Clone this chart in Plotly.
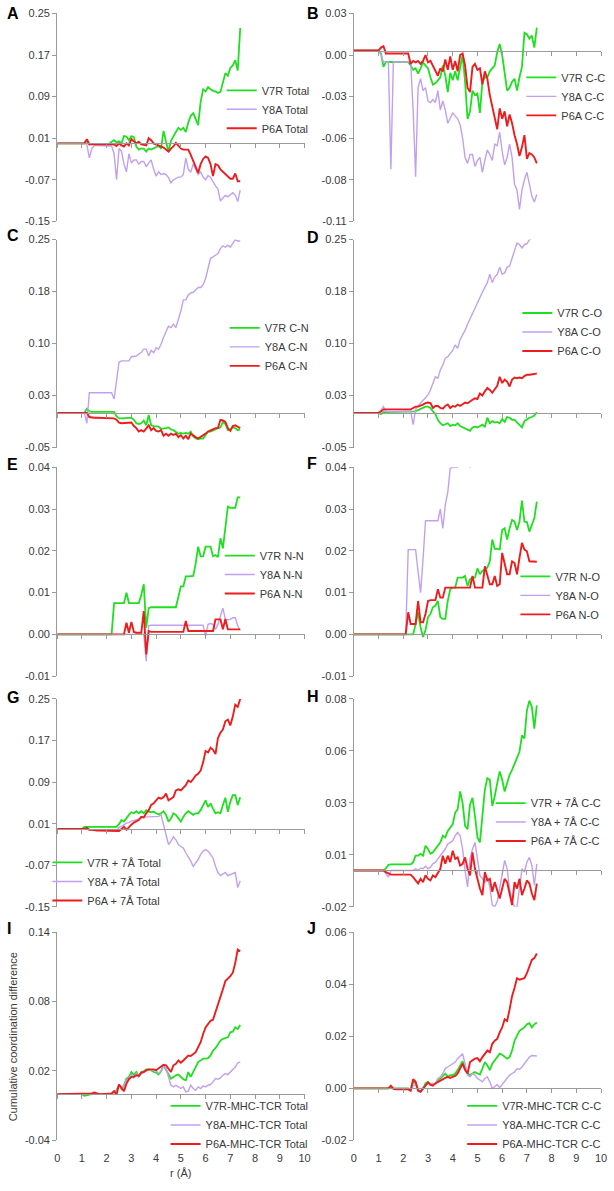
import plotly.graph_objects as go

# r (Å) sampling of every curve
R = [0.0, 0.1, 0.2, 0.3, 0.4, 0.5, 0.6, 0.7, 0.8, 0.9,
     1.0, 1.1, 1.2, 1.3, 1.4, 1.5, 1.6, 1.7, 1.8, 1.9,
     2.0, 2.1, 2.2, 2.3, 2.4, 2.5, 2.6, 2.7, 2.8, 2.9,
     3.0, 3.1, 3.2, 3.3, 3.4, 3.5, 3.6, 3.7, 3.8, 3.9,
     4.0, 4.1, 4.2, 4.3, 4.4, 4.5, 4.6, 4.7, 4.8, 4.9,
     5.0, 5.1, 5.2, 5.3, 5.4, 5.5, 5.6, 5.7, 5.8, 5.9,
     6.0, 6.1, 6.2, 6.3, 6.4, 6.5, 6.6, 6.7, 6.8, 6.9,
     7.0, 7.1, 7.2, 7.3, 7.4]

MUTANTS = ["V7R", "Y8A", "P6A"]
X_TICKS = [0, 1, 2, 3, 4, 5, 6, 7, 8, 9, 10]

# ---- A: Total
A_V7R = [0, 0, 0, 0, 0, 0, 0, 0, 0, 0,
         0, 0, 0.005, -0.002, -0.001, -0.001, -0.001, -0.001, -0.001, -0.001,
         -0.001, -0.001, 0.003, 0.006, 0.002, 0.004, 0.0, 0.014, 0.013, 0.006,
         0.014, 0.012, -0.006, -0.012, -0.01, -0.01, -0.016, -0.01, -0.012, -0.01,
         -0.008, -0.005, -0.01, 0.024, 0.003, -0.016, 0.005, 0.015, 0.022, 0.03,
         0.026, 0.03, 0.022, 0.04, 0.053, 0.058, 0.045, 0.035, 0.08, 0.104,
         0.1, 0.108, 0.104, 0.101, 0.1, 0.097, 0.099, 0.115, 0.135, 0.13,
         0.145, 0.15, 0.16, 0.14, 0.222]
A_Y8A = [0, 0, 0, 0, 0, 0, 0, 0, 0, 0,
         0, 0, -0.002, -0.028, -0.01, -0.004, -0.004, -0.004, -0.004, -0.004,
         -0.004, -0.004, -0.005, -0.02, -0.07, -0.01, -0.015, -0.04, -0.055, -0.02,
         -0.038, -0.032, -0.032, -0.04, -0.035, -0.035, -0.045, -0.038, -0.032, -0.05,
         -0.063, -0.055, -0.06, -0.058, -0.06, -0.066, -0.076, -0.07, -0.068, -0.065,
         -0.065, -0.06, -0.028, -0.05, -0.055, -0.04, -0.05, -0.06, -0.055, -0.065,
         -0.07, -0.062, -0.065, -0.075, -0.082, -0.088, -0.111, -0.105, -0.1, -0.103,
         -0.098, -0.095, -0.1, -0.112, -0.09]
A_P6A = [0, 0, 0, 0, 0, 0, 0, 0, 0, 0,
         0, 0, 0.008, -0.002, -0.002, -0.002, -0.002, -0.002, -0.002, -0.002,
         -0.002, -0.002, -0.002, -0.002, -0.005, 0.0, -0.004, -0.006, 0.0, -0.004,
         0.008, 0.004, 0.0, 0.003, -0.002, -0.003, -0.004, 0.01, 0.006, 0.0,
         -0.002, -0.004, -0.006, -0.008, -0.012, -0.016, -0.01, -0.006, 0.001, -0.005,
         -0.01, -0.012, -0.012, -0.012, -0.022, -0.034, -0.045, -0.057, -0.04, -0.03,
         -0.025, -0.028, -0.04, -0.063, -0.04, -0.042, -0.05, -0.055, -0.06, -0.065,
         -0.068, -0.068, -0.058, -0.073, -0.073]

# ---- B: C-C
B_V7R = [0, 0, 0, 0, 0, 0, 0, 0, 0, 0,
         0, -0.002, -0.011, -0.0077, -0.0077, -0.0077, -0.0077, -0.0077, -0.0077, -0.0077,
         -0.0077, -0.0077, -0.0077, -0.01, -0.013, -0.012, -0.0155, -0.012, -0.008, -0.01,
         -0.012, -0.018, -0.023, -0.022, -0.02, -0.018, -0.01, -0.017, -0.028, -0.015,
         -0.02, -0.014, -0.02, -0.011, -0.003, -0.021, -0.046, -0.041, -0.027, -0.03,
         -0.029, -0.042, -0.021, -0.018, -0.018, -0.014, -0.012, -0.01, -0.001, 0.0044,
         -0.003, -0.017, -0.027, -0.025, -0.021, -0.019, -0.027, -0.018, -0.011, 0.012,
         0.011, 0.008, 0.01, 0.002, 0.0155]
B_Y8A = [0, 0, 0, 0, 0, 0, 0, 0, 0, 0,
         0, -0.003, -0.0077, -0.0077, -0.0077, -0.08, -0.0077, -0.0077, -0.0077, -0.0077,
         -0.0077, -0.0077, -0.0077, -0.0077, -0.04, -0.085, -0.025, -0.019, -0.027, -0.025,
         -0.034, -0.035, -0.033, -0.035, -0.027, -0.04, -0.034, -0.04, -0.049, -0.045,
         -0.042, -0.044, -0.046, -0.05, -0.059, -0.072, -0.076, -0.07, -0.07, -0.078,
         -0.074, -0.072, -0.082, -0.074, -0.067, -0.07, -0.074, -0.063, -0.064, -0.055,
         -0.068, -0.077, -0.072, -0.063, -0.072, -0.09, -0.094, -0.107, -0.094, -0.087,
         -0.082, -0.09, -0.098, -0.102, -0.097]
B_P6A = [0, 0, 0, 0, 0, 0, 0, 0, 0, 0,
         0, 0.002, 0.003, -0.002, -0.002, -0.002, -0.002, -0.002, -0.002, -0.002,
         -0.002, -0.002, -0.002, -0.009, -0.007, -0.008, -0.007, -0.009, -0.007, -0.003,
         -0.008, -0.007, -0.01, -0.014, -0.017, -0.012, -0.014, -0.006, -0.013, -0.004,
         -0.013, -0.007, -0.014, -0.003, -0.002, -0.01, -0.025, -0.028, -0.011, -0.009,
         -0.013, -0.012, -0.023, -0.014, -0.019, -0.03, -0.038, -0.045, -0.053, -0.039,
         -0.046, -0.041, -0.051, -0.043, -0.049, -0.057, -0.063, -0.071, -0.065, -0.057,
         -0.073, -0.069, -0.07, -0.072, -0.076]

# ---- C: C-N
C_V7R = [0, 0, 0, 0, 0, 0, 0, 0, 0, 0,
         0, 0, 0.006, 0.002, 0.0015, 0.0015, 0.0015, 0.0015, 0.0015, 0.0015,
         0.0015, 0.0015, 0.0015, 0.0015, -0.005, -0.008, -0.008, -0.008, -0.008, -0.008,
         -0.007, -0.01, -0.015, -0.016, -0.015, -0.011, -0.018, -0.003, -0.018, -0.019,
         -0.02, -0.02, -0.023, -0.023, -0.022, -0.021, -0.024, -0.025, -0.027, -0.03,
         -0.029, -0.03, -0.029, -0.03, -0.027, -0.034, -0.037, -0.038, -0.037, -0.037,
         -0.032, -0.027, -0.027, -0.025, -0.024, -0.022, -0.021, -0.013, -0.016, -0.025,
         -0.024, -0.021, -0.022, -0.025, -0.024]
C_Y8A = [0, 0, 0, 0, 0, 0, 0, 0, 0, 0,
         0, 0, -0.015, 0.029, 0.029, 0.029, 0.029, 0.029, 0.029, 0.029,
         0.029, 0.029, 0.029, 0.02, 0.051, 0.073, 0.075, 0.075, 0.075, 0.075,
         0.081, 0.081, 0.082, 0.085, 0.087, 0.092, 0.092, 0.082, 0.09, 0.087,
         0.094, 0.092, 0.099, 0.109, 0.118, 0.125, 0.123, 0.128, 0.123, 0.135,
         0.147, 0.163, 0.163, 0.17, 0.173, 0.174, 0.178, 0.181, 0.181, 0.185,
         0.194, 0.211, 0.223, 0.225, 0.227, 0.23, 0.237, 0.241, 0.239, 0.242,
         0.239, 0.244, 0.25, 0.248, 0.248]
C_P6A = [0, 0, 0, 0, 0, 0, 0, 0, 0, 0,
         0, 0, 0, -0.006, -0.007, -0.007, -0.007, -0.007, -0.007, -0.007,
         -0.007, -0.007, -0.007, -0.008, -0.01, -0.014, -0.015, -0.015, -0.015, -0.015,
         -0.014, -0.019, -0.022, -0.027, -0.025, -0.027, -0.022, -0.018, -0.025, -0.022,
         -0.026, -0.027, -0.025, -0.033, -0.03, -0.033, -0.03, -0.032, -0.03, -0.035,
         -0.032, -0.037, -0.033, -0.038, -0.03, -0.033, -0.035, -0.037, -0.035, -0.032,
         -0.03, -0.027, -0.025, -0.024, -0.022, -0.022, -0.01, -0.011, -0.013, -0.022,
         -0.026, -0.019, -0.018, -0.02, -0.022]

# ---- D: C-O
D_V7R = [0, 0, 0, 0, 0, 0, 0, 0, 0, 0,
         0, -0.002, 0.001, 0.001, 0.001, 0.001, 0.001, 0.001, 0.001, 0.001,
         0.001, 0.001, 0.001, 0.001, 0.001, 0.002, 0.004, 0.006, 0.007, 0.009,
         0.009, 0.007, 0.002, -0.002, -0.01, -0.015, -0.018, -0.017, -0.015, -0.019,
         -0.017, -0.018, -0.015, -0.019, -0.021, -0.023, -0.025, -0.026, -0.021, -0.02,
         -0.021, -0.019, -0.017, -0.02, -0.007, -0.015, -0.012, -0.014, -0.013, -0.015,
         -0.009, -0.013, -0.006, -0.007, -0.01, -0.01, -0.014, -0.018, -0.021, -0.012,
         -0.009, -0.007, -0.006, -0.004, 0.001]
D_Y8A = [0, 0, 0, 0, 0, 0, 0, 0, 0, 0,
         0, 0.004, 0.009, 0.002, 0.002, 0.002, 0.002, 0.002, 0.002, 0.002,
         0.002, 0.002, 0.002, 0.002, -0.017, 0.005, 0.01, 0.014, 0.017, 0.021,
         0.026, 0.033, 0.043, 0.052, 0.05, 0.062, 0.069, 0.079, 0.081, 0.086,
         0.09, 0.098, 0.093, 0.106, 0.112, 0.119, 0.128, 0.136, 0.143, 0.15,
         0.16, 0.167, 0.174, 0.181, 0.188, 0.2, 0.188, 0.196, 0.2, 0.21,
         0.2, 0.202, 0.21, 0.212, 0.223, 0.233, 0.245, 0.243, 0.238, 0.243,
         0.244, 0.25, 0.252, None, None]
D_P6A = [0, 0, 0, 0, 0, 0, 0, 0, 0, 0,
         0, 0.002, 0.005, 0.005, 0.005, 0.005, 0.005, 0.005, 0.005, 0.005,
         0.005, 0.005, 0.005, 0.005, 0.007, 0.009, 0.009, 0.01, 0.012, 0.014,
         0.015, 0.014, 0.007, 0.01, 0.01, 0.007, 0.006, 0.01, 0.012, 0.007,
         0.01, 0.009, 0.012, 0.01, 0.012, 0.015, 0.014, 0.017, 0.019, 0.021,
         0.02, 0.028, 0.025, 0.031, 0.036, 0.033, 0.029, 0.034, 0.039, 0.052,
         0.043, 0.048, 0.045, 0.038, 0.048, 0.051, 0.05, 0.051, 0.05, 0.053,
         0.055, 0.055, 0.055, 0.056, 0.057]

# ---- E: N-N
E_V7R = [0, 0, 0, 0, 0, 0, 0, 0, 0, 0,
         0, 0, 0, 0, 0, 0, 0, 0, 0, 0,
         0, 0, 0, 0.0075, 0.0075, 0.0075, 0.0075, 0.0075, 0.01, 0.0075,
         0.0075, 0.0075, 0.0075, 0.0075, 0.0095, 0.012, 0.0016, 0.0063, 0.0065, 0.0065,
         0.0065, 0.0065, 0.0065, 0.0065, 0.0065, 0.0065, 0.0065, 0.0065, 0.0065, 0.009,
         0.0115, 0.0115, 0.0139, 0.0139, 0.0139, 0.014, 0.017, 0.021, 0.0187, 0.0187,
         0.021, 0.021, 0.021, 0.0187, 0.019, 0.0185, 0.023, 0.0206, 0.025, 0.0306,
         0.0303, 0.0303, 0.0303, 0.0328, 0.0328]
E_Y8A = [0, 0, 0, 0, 0, 0, 0, 0, 0, 0,
         0, 0, 0, 0, 0, 0, 0, 0, 0, 0,
         0, 0, 0, 0, 0, 0, 0, 0, 0, 0,
         0, 0, 0, 0, 0, 0.0, -0.0064, 0.0021, 0.0022, 0.0022,
         0.0022, 0.0022, 0.0022, 0.0022, 0.0022, 0.0022, 0.0022, 0.0022, 0.0022, 0.0022,
         0.0022, 0.0022, 0.0022, 0.0022, 0.0022, 0.0022, 0.0022, 0.0022, 0.0022, 0.0022,
         -0.0004, 0.0024, 0.0026, 0.0024, 0.0012, 0.0024, 0.0044, 0.0063, 0.0036, 0.0035,
         0.0036, 0.004, 0.004, 0.002, 0.001]
E_P6A = [0, 0, 0, 0, 0, 0, 0, 0, 0, 0,
         0, 0, 0, 0, 0, 0, 0, 0, 0, 0,
         0, 0, 0, 0, 0, 0, 0, 0, 0.0028, 0.0004,
         0.003, 0.0006, 0.0004, 0.0004, 0.0004, 0.0056, -0.0048, 0.0008, 0.0006, 0.0006,
         0.0006, 0.0006, 0.0006, 0.0006, 0.0006, 0.0006, 0.0006, 0.0006, 0.0006, 0.0006,
         0.0006, 0.0006, 0.0032, 0.0008, 0.0008, 0.0008, 0.0008, 0.0008, 0.0008, 0.0008,
         0.0008, 0.0008, 0.0008, 0.0008, 0.0036, 0.0036, 0.0036, 0.0012, 0.0037, 0.0012,
         0.0012, 0.0012, 0.0012, 0.0012, 0.0012]

# ---- F: N-O
F_V7R = [0, 0, 0, 0, 0, 0, 0, 0, 0, 0,
         0, 0, 0, 0, 0, 0, 0, 0, 0, 0,
         0, 0, 0, 0, 0, 0.0025, 0.0053, 0.0017, -0.0006, 0.001,
         0.0041, 0.0049, 0.0065, 0.0069, 0.008, 0.0041, 0.0037, 0.0037, 0.008, 0.0108,
         0.0112, 0.0112, 0.0136, 0.0136, 0.0136, 0.014, 0.0116, 0.0132, 0.0136, 0.0136,
         0.0158, 0.0144, 0.0152, 0.0156, 0.016, 0.0175, 0.0227, 0.0205, 0.0205, 0.0203,
         0.025, 0.0254, 0.0227, 0.0254, 0.0274, 0.027, 0.025, 0.027, 0.032, 0.027,
         0.0269, 0.0246, 0.0262, 0.0278, 0.0318]
F_Y8A = [0, 0, 0, 0, 0, 0, 0, 0, 0, 0,
         0, 0, 0, 0, 0, 0, 0, 0, 0, 0,
         0, 0, 0.0203, 0.0203, 0.0203, 0.0203, 0.015, 0.01, 0.018, 0.0272,
         0.0272, 0.0272, 0.0272, 0.0272, 0.0272, 0.03, 0.0254, 0.031, 0.034, 0.0398,
         0.04, 0.04, 0.04, 0.042, 0.044, 0.043, 0.041, 0.04, 0.043, None,
         None, None, None, None, None, None, None, None, None, None,
         None, None, None, None, None, None, None, None, None, None,
         None, None, None, None, None]
F_P6A = [0, 0, 0, 0, 0, 0, 0, 0, 0, 0,
         0, 0, 0, 0, 0, 0, 0, 0, 0, 0,
         0, 0, 0.0053, 0.0025, 0.0025, 0.0025, 0.008, 0.0029, 0.0029, 0.0049,
         0.008, 0.0082, 0.0082, 0.0082, 0.0108, 0.0088, 0.0088, 0.0112, 0.0112, 0.0112,
         0.0112, 0.0112, 0.0112, 0.0112, 0.0112, 0.0112, 0.0112, 0.0112, 0.014, 0.0112,
         0.0112, 0.0112, 0.0112, 0.0163, 0.014, 0.012, 0.012, 0.014, 0.0116, 0.012,
         0.0195, 0.0167, 0.0144, 0.0144, 0.0175, 0.0171, 0.0144, 0.0183, 0.0219, 0.0203,
         0.0199, 0.0175, 0.0175, 0.0174, 0.0174]

# ---- G: + 7Å Total
G_V7R = [0, 0, 0, 0, 0, 0, 0, 0, 0, 0,
         0, 0.004, 0.004, 0.004, 0.004, 0.004, 0.004, 0.004, 0.004, 0.004,
         0.004, 0.004, 0.004, 0.004, 0.004, 0.009, 0.017, 0.014, 0.021, 0.027,
         0.032, 0.03, 0.034, 0.03, 0.034, 0.03, 0.036, 0.033, 0.032, 0.033,
         0.03, 0.028, 0.03, 0.034, 0.027, 0.014, 0.02, 0.03, 0.027, 0.02,
         0.014, 0.023, 0.03, 0.034, 0.03, 0.027, 0.03, 0.03, 0.036, 0.046,
         0.055, 0.042, 0.049, 0.039, 0.03, 0.032, 0.03, 0.046, 0.06, 0.033,
         0.052, 0.065, 0.065, 0.046, 0.061]
G_Y8A = [0, 0, 0, 0, 0, 0, 0, 0, 0, 0,
         0, 0, -0.001, -0.002, -0.002, -0.002, -0.002, -0.002, -0.002, -0.002,
         -0.002, -0.002, -0.002, -0.002, -0.004, 0.003, 0.005, 0.008, 0.011, 0.012,
         0.015, 0.016, 0.017, 0.019, 0.022, 0.023, 0.023, 0.023, 0.023, 0.023,
         0.023, 0.024, 0.027, 0.008, -0.011, -0.03, -0.024, -0.015, -0.021, -0.03,
         -0.034, -0.037, -0.046, -0.053, -0.062, -0.072, -0.065, -0.059, -0.049, -0.043,
         -0.04, -0.043, -0.049, -0.056, -0.072, -0.084, -0.09, -0.087, -0.084, -0.09,
         -0.088, -0.087, -0.084, -0.113, -0.1]
G_P6A = [0, 0, 0, 0, 0, 0, 0, 0, 0, 0,
         0, 0, 0.002, -0.002, -0.002, -0.003, -0.003, -0.003, -0.003, -0.003,
         -0.003, -0.003, -0.003, -0.004, -0.004, -0.004, 0.0, 0.004, -0.002, 0.004,
         0.008, 0.012, 0.014, 0.017, 0.023, 0.022, 0.03, 0.036, 0.046, 0.049,
         0.055, 0.06, 0.058, 0.061, 0.068, 0.055, 0.058, 0.061, 0.074, 0.076,
         0.074, 0.08, 0.084, 0.093, 0.09, 0.096, 0.103, 0.106, 0.112, 0.128,
         0.15, 0.147, 0.156, 0.152, 0.144, 0.175, 0.185, 0.191, 0.207, 0.21,
         0.199, 0.216, 0.239, 0.235, 0.25]

# ---- H: + 7Å C-C
H_V7R = [0, 0, 0, 0, 0, 0, 0, 0, 0, 0,
         0, 0, 0, 0.001, 0.0027, 0.0029, 0.0029, 0.0029, 0.0029, 0.0029,
         0.0029, 0.0029, 0.0029, 0.0029, 0.004, 0.0071, 0.0071, 0.008, 0.0071, 0.0119,
         0.0103, 0.008, 0.0087, 0.0103, 0.0119, 0.0135, 0.0167, 0.0159, 0.019, 0.0206,
         0.0222, 0.0278, 0.0294, 0.038, 0.0325, 0.0214, 0.0198, 0.0317, 0.0349, 0.0262,
         0.0159, 0.0135, 0.0262, 0.0389, 0.0444, 0.0436, 0.031, 0.0357, 0.042, 0.0476,
         0.0436, 0.038, 0.042, 0.046, 0.0484, 0.0516, 0.0548, 0.0571, 0.065, 0.0635,
         0.077, 0.0817, 0.0786, 0.0682, 0.0794]
H_Y8A = [0, 0, 0, 0, 0, 0, 0, 0, 0, 0,
         0, 0, 0, -0.0016, -0.0032, 0, 0, 0, 0, 0,
         0, 0, 0, 0, 0, 0.0008, 0, 0.0011, 0.0008, 0.002,
         0.0008, 0.0016, 0.0032, 0.004, 0.0056, 0.0071, 0.0087, 0.0103, 0.0127, 0.0135,
         0.0143, 0.0167, 0.0183, 0.0167, 0.0103, 0.0, -0.0079, 0.0056, 0.0103, 0.0135,
         0.0056, -0.0024, -0.004, -0.0056, -0.0032, -0.0079, -0.0167, -0.0175, -0.015, -0.0087,
         -0.0008, 0.0048, 0.0008, -0.0087, -0.015, -0.0175, -0.0175, -0.0087, 0.0008, -0.0008,
         0.004, 0.0063, 0.0024, -0.0071, 0.0032]
H_P6A = [0, 0, 0, 0, 0, 0, 0, 0, 0, 0,
         0, 0, 0, -0.0008, -0.0016, -0.002, -0.002, -0.002, -0.002, -0.002,
         -0.002, -0.002, -0.002, -0.002, -0.0032, -0.0048, -0.0063, -0.004, -0.0056, -0.0024,
         -0.004, -0.0048, -0.0024, -0.0032, -0.0008, 0.0008, 0.0071, 0.0032, 0.0071, 0.004,
         0.0095, 0.0056, 0.0063, 0.0024, 0.0032, 0.0063, 0.0008, -0.0024, 0.0087, 0.0008,
         -0.004, -0.0087, -0.0119, -0.0008, -0.0048, -0.004, -0.0103, -0.0056, -0.0095, -0.0135,
         -0.0087, -0.004, -0.0056, -0.0111, -0.0167, -0.0056, -0.0087, -0.004, -0.0119, -0.0087,
         -0.0048, -0.0063, -0.0111, -0.0143, -0.0063]

# ---- I: MHC-TCR Total
I_V7R = [0, 0, 0, 0, 0, 0, 0, 0, 0, 0,
         0, -0.0014, -0.0008, 0, 0, 0, 0, 0, 0, 0,
         0, 0, 0, 0.002, 0.0034, 0.0083, 0.0043, 0.0077, 0.0134, 0.0149,
         0.0191, 0.0169, 0.0191, 0.0157, 0.0191, 0.0197, 0.0214, 0.0214, 0.0206, 0.0191,
         0.0186, 0.0169, 0.0197, 0.0249, 0.0206, 0.0177, 0.0134, 0.0149, 0.0163, 0.0169,
         0.0149, 0.0129, 0.012, 0.0191, 0.0149, 0.0191, 0.0234, 0.0277, 0.0291, 0.0306,
         0.0306, 0.0311, 0.0334, 0.0377, 0.0397, 0.0434, 0.0463, 0.0477, 0.0483, 0.0491,
         0.0534, 0.054, 0.0577, 0.0563, 0.0597]
I_Y8A = [0, 0, 0, 0, 0, 0, 0, 0, 0, 0,
         0, 0, 0, 0, 0, 0, 0, 0, 0, 0,
         0, 0, 0, 0.002, 0.003, 0.0075, 0.005, 0.008, 0.012, 0.014,
         0.017, 0.014, 0.0185, 0.015, 0.0175, 0.019, 0.02, 0.021, 0.021, 0.021,
         0.02, 0.018, 0.02, 0.024, 0.022, 0.0149, 0.0077, 0.0063, 0.0077, 0.0063,
         0.0049, 0.0063, 0.002, 0.0026, 0.0077, 0.0049, 0.0034, 0.0063, 0.0049, 0.0071,
         0.0063, 0.0077, 0.0083, 0.0106, 0.0134, 0.0129, 0.014, 0.0163, 0.0177, 0.0169,
         0.0191, 0.0206, 0.0234, 0.0271, 0.0277]
I_P6A = [0, 0, 0, 0, 0, 0, 0, 0, 0, 0,
         0, 0.0006, 0.0006, 0.0006, 0.0006, 0.0014, 0.0006, 0, 0, 0,
         0, 0, 0.0006, 0.0026, -0.0003, 0.0083, 0.0049, 0.0026, 0.0091, 0.0129,
         0.0149, 0.0149, 0.0163, 0.0157, 0.0186, 0.0191, 0.0206, 0.0214, 0.0214, 0.0214,
         0.0206, 0.022, 0.0234, 0.0254, 0.0249, 0.0214, 0.0191, 0.0249, 0.0263, 0.0291,
         0.0271, 0.0291, 0.0311, 0.0334, 0.0329, 0.0349, 0.0363, 0.0406, 0.0449, 0.052,
         0.0577, 0.0606, 0.0634, 0.0643, 0.0706, 0.0763, 0.0834, 0.0906, 0.0977, 0.0997,
         0.102, 0.1049, 0.1134, 0.1249, 0.1234]

# ---- J: MHC-TCR C-C
J_V7R = [0, 0, 0, 0, 0, 0, 0, 0, 0, 0,
         0, 0, 0, 0, 0, 0.0005, 0, 0, 0, 0,
         0, 0, 0, -0.0005, 0.0025, 0.002, -0.0006, -0.0013, 0, 0.0019,
         0.0025, 0.0015, 0.0013, 0.0019, 0.0028, 0.0038, 0.0048, 0.0057, 0.0044, 0.0051,
         0.0051, 0.0057, 0.007, 0.0088, 0.0104, 0.0082, 0.0057, 0.0051, 0.0057, 0.0063,
         0.0057, 0.0053, 0.0076, 0.0101, 0.0088, 0.007, 0.0095, 0.0107, 0.012, 0.0133,
         0.0129, 0.012, 0.0114, 0.012, 0.0145, 0.0183, 0.0202, 0.0221, 0.0228, 0.0234,
         0.0246, 0.025, 0.0234, 0.0246, 0.0253]
J_Y8A = [0, 0, 0, 0, 0, 0, 0, 0, 0, 0,
         0, 0, 0, 0, 0, 0, 0, 0, 0, 0,
         0, 0, 0, -0.0005, 0.001, 0.0015, -0.0005, -0.001, 0, 0.001,
         0.002, 0.0018, 0.002, 0.002, 0.0038, 0.0044, 0.0057, 0.0076, 0.0082, 0.0088,
         0.0095, 0.0101, 0.0114, 0.0124, 0.0133, 0.0095, 0.0051, 0.0044, 0.0057, 0.0051,
         0.0038, 0.0032, 0.0025, 0.0038, 0.0044, 0.0025, 0.0, 0.0006, 0.0015, 0.0003,
         0.0015, 0.0025, 0.0038, 0.0051, 0.0057, 0.0063, 0.0076, 0.0073, 0.0082, 0.0095,
         0.0107, 0.012, 0.0126, 0.0126, 0.0124]
J_P6A = [0, 0, 0, 0, 0, 0, 0, 0, 0, 0,
         0, 0, 0, 0, 0, 0.001, -0.0002, -0.0004, -0.0004, -0.0004,
         -0.0004, -0.0004, -0.0004, -0.0009, 0.0035, 0.0025, -0.0009, -0.0013, 0, 0.0013,
         0.0023, 0.0013, 0.001, 0.0019, 0.0025, 0.0028, 0.0035, 0.004, 0.0044, 0.004,
         0.0044, 0.0048, 0.0057, 0.0076, 0.0095, 0.007, 0.0057, 0.0101, 0.0107, 0.0114,
         0.0116, 0.0104, 0.012, 0.0133, 0.0145, 0.0139, 0.0171, 0.0183, 0.019, 0.0215,
         0.0234, 0.0265, 0.0259, 0.0303, 0.0354, 0.0386, 0.0423, 0.0417, 0.0419, 0.0423,
         0.0442, 0.0468, 0.0493, 0.05, 0.0518]

# y-axis ranges, tick positions and the labels printed on them
RANGE_AG = [-0.15, 0.25]
TICKS_AG = [-0.15, -0.07, 0.01, 0.09, 0.17, 0.25]
LABELS_AG = ["-0.15", "-0.07", "0.01", "0.09", "0.17", "0.25"]
RANGE_B = [-0.115, 0.025]
TICKS_B = [-0.115, -0.087, -0.059, -0.031, -0.003, 0.025]
LABELS_B = ["-0.11", "-0.08", "-0.06", "-0.03", "0.00", "0.03"]
RANGE_CD = [-0.05, 0.25]
TICKS_CD = [-0.05, 0.025, 0.1, 0.175, 0.25]
LABELS_CD = ["-0.05", "0.03", "0.10", "0.18", "0.25"]
RANGE_EF = [-0.01, 0.04]
TICKS_EF = [-0.01, 0.0, 0.01, 0.02, 0.03, 0.04]
LABELS_EF = ["-0.01", "0.00", "0.01", "0.02", "0.03", "0.04"]
RANGE_H = [-0.0175, 0.0825]
TICKS_H = [-0.0175, 0.0075, 0.0325, 0.0575, 0.0825]
LABELS_H = ["-0.02", "0.01", "0.03", "0.06", "0.08"]
RANGE_I = [-0.04, 0.14]
TICKS_I = [-0.04, 0.02, 0.08, 0.14]
LABELS_I = ["-0.04", "0.02", "0.08", "0.14"]
RANGE_J = [-0.02, 0.06]
TICKS_J = [-0.02, 0.0, 0.02, 0.04, 0.06]
LABELS_J = ["-0.02", "0.00", "0.02", "0.04", "0.06"]

W, H = 614, 1191
GREEN, LAVENDER, RED = "#1fe01f", "#c2a0f0", "#ee1c1c"
AXIS_GREY = "#9a9a9a"
TEXT_GREY = "#3a3a3a"
FONT = "Arial, Liberation Sans, sans-serif"

COL_X = [(55, 306), (356, 607)]
ROW_Y = [(7.5, 217.5), (236, 446), (466, 677), (700, 910), (935.5, 1146)]

# letter, legend suffix, series, y range/ticks/labels, legend (left px, top px), letter (left px, centre px)
panels = [
    ("A", " Total", (A_V7R, A_Y8A, A_P6A), RANGE_AG, TICKS_AG, LABELS_AG, (222, 70.5), (2, 8)),
    ("B", " C-C", (B_V7R, B_Y8A, B_P6A), RANGE_B, TICKS_B, LABELS_B, (526, 57.5), (306, 8)),
    ("C", " C-N", (C_V7R, C_Y8A, C_P6A), RANGE_CD, TICKS_CD, LABELS_CD, (225, 310.5), (2, 232)),
    ("D", " C-O", (D_V7R, D_Y8A, D_P6A), RANGE_CD, TICKS_CD, LABELS_CD, (522, 295.5), (306, 234)),
    ("E", " N-N", (E_V7R, E_Y8A, E_P6A), RANGE_EF, TICKS_EF, LABELS_EF, (220, 540.5), (2, 463)),
    ("F", " N-O", (F_V7R, F_Y8A, F_P6A), RANGE_EF, TICKS_EF, LABELS_EF, (520, 561.5), (306, 462)),
    ("G", " + 7Å Total", (G_V7R, G_Y8A, G_P6A), RANGE_AG, TICKS_AG, LABELS_AG, (45, 850.5), (2, 699)),
    ("H", " + 7Å C-C", (H_V7R, H_Y8A, H_P6A), RANGE_H, TICKS_H, LABELS_H, (495, 790.5), (306, 698)),
    ("I", "-MHC-TCR Total", (I_V7R, I_Y8A, I_P6A), RANGE_I, TICKS_I, LABELS_I, (165, 1096.5), (2, 932)),
    ("J", "-MHC-TCR C-C", (J_V7R, J_Y8A, J_P6A), RANGE_J, TICKS_J, LABELS_J, (466, 1096.5), (306, 932)),
]

fig = go.Figure()
layout = {}
annotations = []

for i, (letter, suffix, series, yr, tv, tt, leg, let_pos) in enumerate(panels):
    n = i + 1
    row, col = divmod(i, 2)
    sfx = "" if n == 1 else str(n)
    xd = [COL_X[col][0] / W, COL_X[col][1] / W]
    yd = [1 - ROW_Y[row][1] / H, 1 - ROW_Y[row][0] / H]
    zero_pos = yd[0] + (0 - yr[0]) / (yr[1] - yr[0]) * (yd[1] - yd[0])
    legend_id = "legend" + sfx

    for name, ys, color, width in zip(MUTANTS, series, (GREEN, LAVENDER, RED), (1.8, 1.4, 1.9)):
        fig.add_trace(go.Scatter(
            x=R, y=ys, mode="lines", name=name + suffix,
            line=dict(color=color, width=width),
            xaxis="x" + sfx, yaxis="y" + sfx, legend=legend_id,
            connectgaps=False,
        ))

    layout["xaxis" + sfx] = dict(
        domain=xd, range=[0, 10], anchor="free", position=zero_pos,
        tickvals=X_TICKS, showticklabels=False, ticks="outside", ticklen=4,
        tickcolor=AXIS_GREY, showline=True, linecolor=AXIS_GREY, linewidth=1,
        showgrid=False, zeroline=False, fixedrange=True,
    )
    layout["yaxis" + sfx] = dict(
        domain=yd, range=yr, anchor="x" + sfx, tickvals=tv, ticktext=tt,
        ticks="outside", ticklen=4, tickcolor=AXIS_GREY, showline=True,
        linecolor=AXIS_GREY, linewidth=1, showgrid=False, zeroline=False,
        tickfont=dict(size=11, color=TEXT_GREY, family=FONT), fixedrange=True,
    )
    layout[legend_id] = dict(
        x=leg[0] / W, y=1 - leg[1] / H, xanchor="left", yanchor="top",
        bgcolor="rgba(0,0,0,0)", borderwidth=0, tracegroupgap=0,
        font=dict(size=11, color=TEXT_GREY, family=FONT),
    )
    annotations.append(dict(
        text="<b>%s</b>" % letter, x=let_pos[0] / W, y=1 - let_pos[1] / H,
        xref="paper", yref="paper", xanchor="left", yanchor="middle",
        showarrow=False, font=dict(size=16, color="black", family=FONT),
    ))

# r labels sit at the bottom of the last row, below the zero-crossing axes
for n, base in ((11, 9), (12, 10)):
    fig.add_trace(go.Scatter(x=[], y=[], xaxis="x%d" % n, yaxis="y%d" % base,
                             showlegend=False, hoverinfo="skip"))
    layout["xaxis%d" % n] = dict(
        overlaying="x%d" % base, anchor="y%d" % base, side="bottom", range=[0, 10],
        tickvals=X_TICKS, ticks="outside", ticklen=7, tickcolor="rgba(0,0,0,0)",
        showline=False, showgrid=False, zeroline=False, fixedrange=True,
        tickfont=dict(size=11, color=TEXT_GREY, family=FONT),
    )

annotations.append(dict(
    text="Cumulative coordination difference", textangle=-90,
    x=10 / W, y=1 - 1041 / H, xref="paper", yref="paper",
    xanchor="center", yanchor="middle", showarrow=False,
    font=dict(size=11, color=TEXT_GREY, family=FONT),
))
annotations.append(dict(
    text="r (Å)", x=180 / W, y=1 - 1179 / H, xref="paper", yref="paper",
    xanchor="center", yanchor="middle", showarrow=False,
    font=dict(size=11, color=TEXT_GREY, family=FONT),
))

fig.update_layout(
    width=W, height=H, margin=dict(l=0, r=0, t=0, b=0),
    paper_bgcolor="white", plot_bgcolor="white",
    font=dict(family=FONT), annotations=annotations, **layout,
)

# the page's default 8px body margin would push the figure off the window
fig.write_html("out.html", config={"displayModeBar": False},
               post_script="document.body.style.margin='0';"
                           "document.documentElement.style.overflow='hidden';")
